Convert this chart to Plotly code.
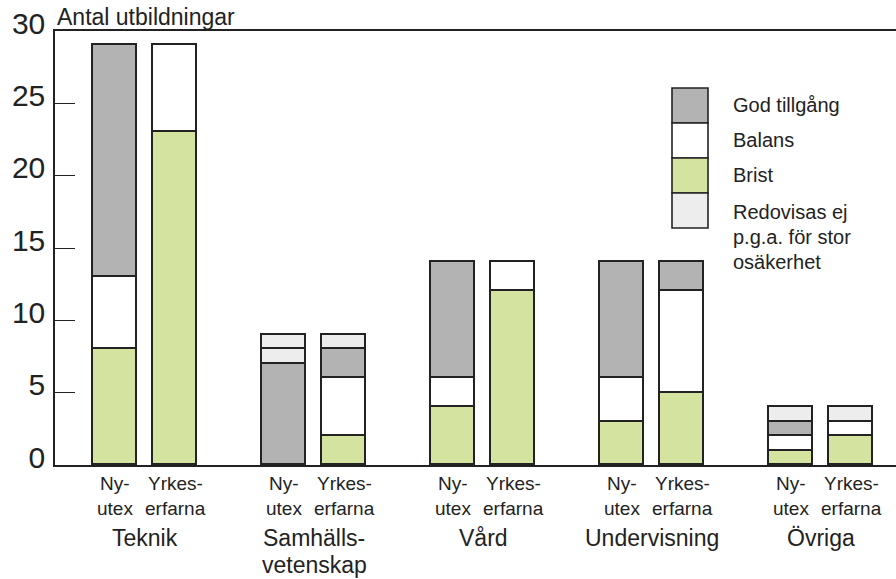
import plotly.graph_objects as go

groups = ["Teknik", "Samhälls-<br>vetenskap", "Vård", "Undervisning", "Övriga"]
sub_labels = ["Ny-", "utex"], ["Yrkes-", "erfarna"]

brist_ny = [8, 0, 4, 3, 1]
brist_yrkes = [23, 2, 12, 5, 2]
balans_ny = [5, 0, 2, 3, 1]
balans_yrkes = [6, 4, 2, 7, 1]
god_ny = [16, 7, 8, 8, 1]
god_yrkes = [0, 2, 0, 2, 0]
redov_ny = [0, 1, 0, 0, 1]
redov_ny_extra = [0, 1, 0, 0, 0]
redov_yrkes = [0, 1, 0, 0, 1]

y_ticks = [0, 5, 10, 15, 20, 25, 30]

series = [
    ("Brist", brist_ny, brist_yrkes, "#d5e3a1"),
    ("Balans", balans_ny, balans_yrkes, "#ffffff"),
    ("God tillgång", god_ny, god_yrkes, "#b3b3b3"),
    ("Redovisas ej p.g.a. för stor osäkerhet", redov_ny, redov_yrkes, "#ededed"),
    ("Redovisas ej (2)", redov_ny_extra, [0] * 5, "#ededed"),
]

OFF = 0.1775
WIDTH = 0.26
FONT = "Liberation Sans, Arial, Helvetica, sans-serif"
TXT = "#222222"

x_ny = [g - OFF for g in range(len(groups))]
x_yr = [g + OFF for g in range(len(groups))]
xs = x_ny + x_yr


def nz(v):
    return [None if a == 0 else a for a in v]


fig = go.Figure()
for name, ny, yr, col in series:
    fig.add_trace(go.Bar(
        x=xs, y=nz(ny + yr), name=name, width=WIDTH,
        marker=dict(color=col, line=dict(color="#222222", width=1.6)),
        showlegend=False, hoverinfo="x+y+name",
    ))

annotations = []
for g in range(len(groups)):
    for xpos, lines in ((x_ny[g], sub_labels[0]), (x_yr[g], sub_labels[1])):
        for i, t in enumerate(lines):
            annotations.append(dict(x=xpos, y=0, xref="x", yref="y", text=t,
                                    showarrow=False, yanchor="middle",
                                    yshift=-(18 + 25 * i),
                                    font=dict(size=19, color=TXT, family=FONT)))
    for i, t in enumerate(groups[g].split("<br>")):
        annotations.append(dict(x=g, y=0, xref="x", yref="y", text=t,
                                showarrow=False, yanchor="middle",
                                yshift=-(73 + 27 * i),
                                font=dict(size=23, color=TXT, family=FONT)))

annotations.append(dict(x=0, y=1, xref="paper", yref="paper",
                        text="Antal utbildningar", showarrow=False,
                        xanchor="left", yanchor="middle", yshift=14,
                        font=dict(size=23, color=TXT, family=FONT)))

# custom legend (stacked swatches), positions in page pixels
L, W, H, T = 55, 841, 434, 31
def px_x(p):
    return (p - L) / W
def px_y(p):
    return (T + H - p) / H

legend_items = [
    (["God tillgång"], "#b3b3b3", 88, 123),
    (["Balans"], "#ffffff", 123, 158),
    (["Brist"], "#d5e3a1", 158, 193),
    (["Redovisas ej", "p.g.a. för stor", "osäkerhet"], "#ededed", 193, 228),
]
shapes = []
for lines, col, top, bot in legend_items:
    shapes.append(dict(type="rect", xref="paper", yref="paper",
                       x0=px_x(672), x1=px_x(708), y0=px_y(bot), y1=px_y(top),
                       fillcolor=col, line=dict(color="#222222", width=1.6)))
    for i, t in enumerate(lines):
        annotations.append(dict(x=px_x(731), y=px_y(top + 17 + 2 * (len(lines) > 1) + 25 * i),
                                xref="paper", yref="paper",
                                text=t, showarrow=False, xanchor="left",
                                yanchor="middle", align="left",
                                font=dict(size=20, color=TXT, family=FONT)))

fig.update_layout(
    width=896, height=579,
    margin=dict(l=55, r=0, t=31, b=114),
    paper_bgcolor="white", plot_bgcolor="white",
    barmode="stack", bargap=0,
    showlegend=False,
    annotations=annotations, shapes=shapes,
    font=dict(family=FONT, color=TXT),
    xaxis=dict(range=[-0.533, 4.443], showticklabels=False, ticks="",
               showgrid=False, zeroline=False, showline=True, mirror=True,
               linecolor="#222222", linewidth=1.5, fixedrange=True),
    yaxis=dict(range=[0, 30], tickvals=y_ticks, ticks="inside", ticklen=20,
               tickcolor="#222222", tickwidth=1.2,
               showgrid=False, zeroline=False, showline=True,
               linecolor="#222222", linewidth=1.5,
               tickfont=dict(size=30, color=TXT, family=FONT),
               ticklabelshift=-8, ticklabelstandoff=2,
               ticklabeloverflow="allow", fixedrange=True),
)

fig.write_html("out.html",
               config={"displayModeBar": False},
               post_script="document.body.style.margin='0';document.body.style.padding='0';")
